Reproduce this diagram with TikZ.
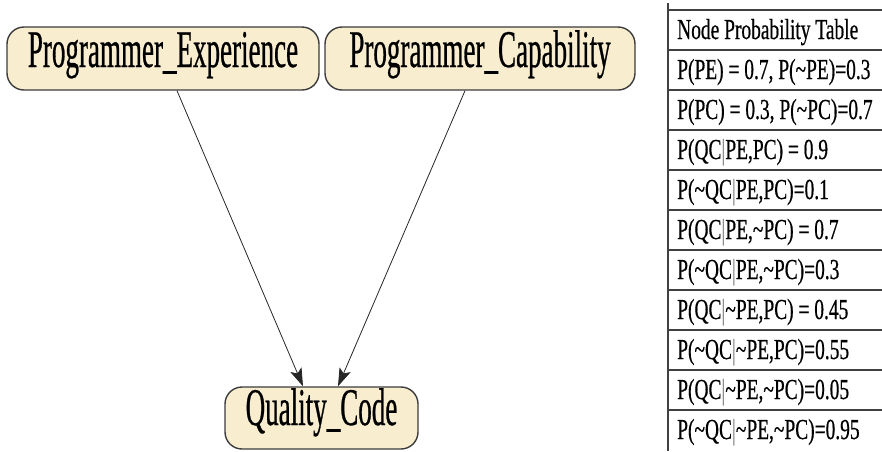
\documentclass[tikz,border=0pt]{standalone}
\usepackage{fontspec}
\setmainfont{Liberation Serif}
\newfontfamily\nodefont[FakeStretch=0.51,FakeBold=0.5]{Liberation Serif}
\newfontfamily\tabfont[FakeStretch=0.67,FakeBold=0.5]{Liberation Serif}
\usetikzlibrary{arrows.meta,calc}
\newcommand\tld{\textasciitilde}
\newcommand\vbr{{\color{black!45}|}}
\definecolor{nodebg}{RGB}{249,237,208}
\definecolor{edge}{RGB}{60,60,60}
\tikzset{
  bn/.style={draw=edge, line width=1.4pt, fill=nodebg, rounded corners=17pt,
    inner sep=0pt, font=\nodefont\fontsize{53}{60}\selectfont},
  arr/.style={draw=black!85, line width=0.8pt, -{Stealth[length=18pt,width=12pt,inset=4pt]}},
  tabline/.style={draw=black!75, line width=1.3pt},
  row/.style={anchor=base west, inner sep=0pt, font=\tabfont\fontsize{29}{32}\selectfont},
}
\begin{document}
\begin{tikzpicture}[x=1pt,y=-1pt]
\useasboundingbox[fill=white] (0,0) rectangle (882,451);
% Bayesian network nodes
\node[bn, anchor=base, minimum width=312pt, text height=40pt, text depth=23pt] (pe) at (163,67) {Programmer\_Experience};
\node[bn, anchor=base, minimum width=310pt, text height=40pt, text depth=23pt] (pc) at (480,67) {Programmer\_Capability};
\node[bn, anchor=base, minimum width=193pt, text height=38pt, text depth=24pt] (qc) at (321.5,425) {Quality\_Code};
% connectors
\draw[arr] ($(pe.south)+(14,0)$) -- ($(qc.north)+(-18.5,0)$);
\draw[arr] ($(pc.south)+(-15,0)$) -- ($(qc.north)+(16.5,0)$);
% table
\draw[tabline] (668,3) -- (668,451);
\foreach \i in {0,...,10} {
  \draw[tabline] (668,{10+40*\i}) -- (882,{10+40*\i});
}
\node[row] (r0) at (677,39) {Node Probability Table};
\node[row] (r1) at (677,79) {P(PE) = 0.7, P(\tld PE)=0.3};
\node[row] (r2) at (677,119) {P(PC) = 0.3, P(\tld PC)=0.7};
\node[row] (r3) at (677,159) {P(QC\vbr PE,PC) = 0.9};
\node[row] (r4) at (677,199) {P(\tld QC\vbr PE,PC)=0.1};
\node[row] (r5) at (677,239) {P(QC\vbr PE,\tld PC) = 0.7};
\node[row] (r6) at (677,279) {P(\tld QC\vbr PE,\tld PC)=0.3};
\node[row] (r7) at (677,319) {P(QC\vbr\tld PE,PC) = 0.45};
\node[row] (r8) at (677,359) {P(\tld QC\vbr\tld PE,PC)=0.55};
\node[row] (r9) at (677,399) {P(QC\vbr\tld PE,\tld PC)=0.05};
\node[row] (r10) at (677,439) {P(\tld QC\vbr\tld PE,\tld PC)=0.95};
\end{tikzpicture}
\end{document}
